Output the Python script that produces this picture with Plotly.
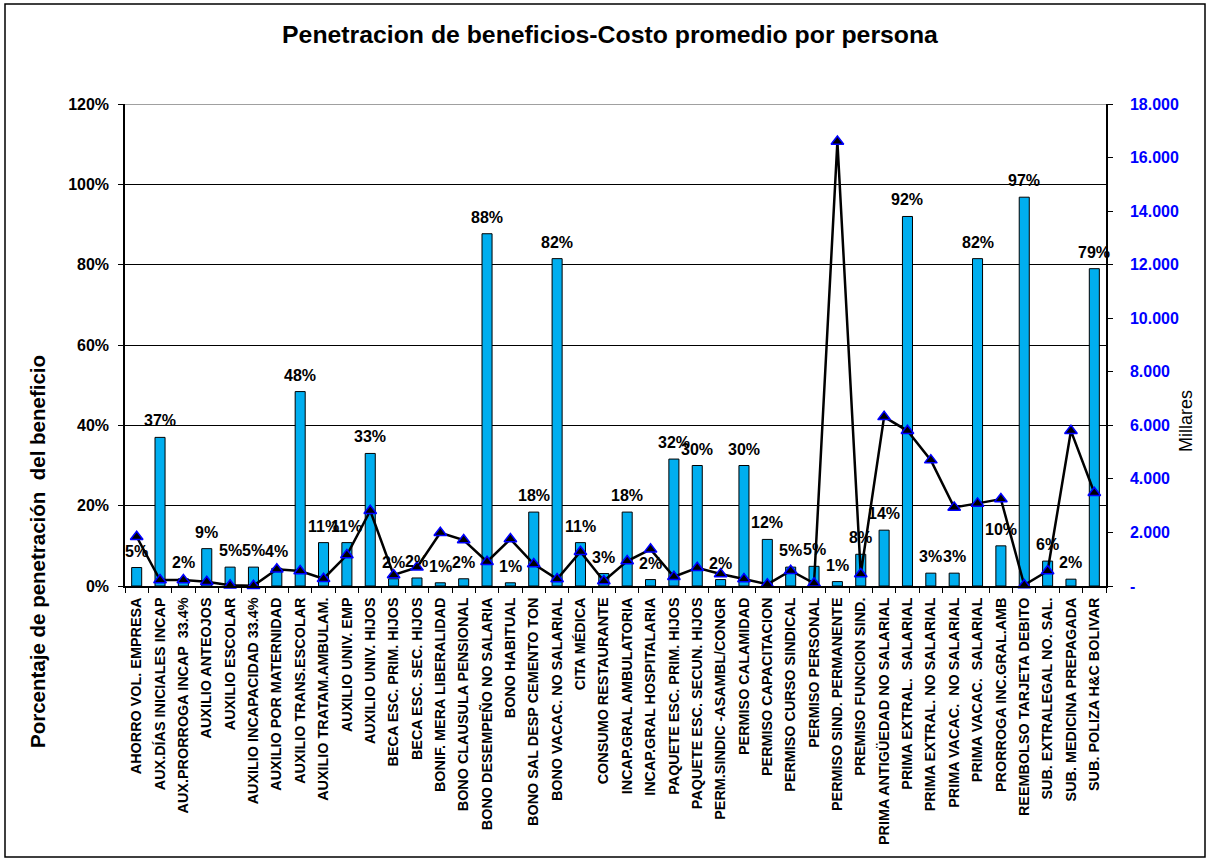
import plotly.graph_objects as go

# Beneficios
categorias = [
    "AHORRO VOL. EMPRESA", "AUX.DÍAS INICIALES INCAP", "AUX.PRORROGA INCAP  33.4%",
    "AUXILIO ANTEOJOS", "AUXILIO ESCOLAR", "AUXILIO INCAPACIDAD 33.4%",
    "AUXILIO POR MATERNIDAD", "AUXILIO TRANS.ESCOLAR", "AUXILIO TRATAM.AMBULAM.",
    "AUXILIO UNIV. EMP", "AUXILIO UNIV. HIJOS", "BECA ESC. PRIM. HIJOS",
    "BECA ESC. SEC. HIJOS", "BONIF. MERA LIBERALIDAD", "BONO CLAUSULA PENSIONAL",
    "BONO DESEMPEÑO NO SALARIA", "BONO HABITUAL", "BONO SAL DESP CEMENTO TON",
    "BONO VACAC. NO SALARIAL", "CITA MÉDICA", "CONSUMO RESTAURANTE",
    "INCAP.GRAL AMBULATORIA", "INCAP.GRAL HOSPITALARIA", "PAQUETE ESC. PRIM. HIJOS",
    "PAQUETE ESC. SECUN. HIJOS", "PERM.SINDIC -ASAMBL/CONGR", "PERMISO CALAMIDAD",
    "PERMISO CAPACITACION", "PERMISO CURSO SINDICAL", "PERMISO PERSONAL",
    "PERMISO SIND. PERMANENTE", "PREMISO FUNCION SIND.", "PRIMA ANTIGÜEDAD NO SALARIAL",
    "PRIMA EXTRAL.  SALARIAL", "PRIMA EXTRAL. NO SALARIAL", "PRIMA VACAC.  NO SALARIAL",
    "PRIMA VACAC.  SALARIAL", "PRORROGA INC.GRAL.AMB", "REEMBOLSO TARJETA DEBITO",
    "SUB. EXTRALEGAL NO. SAL.", "SUB. MEDICINA PREPAGADA", "SUB. POLIZA H&C BOLIVAR",
]

# Penetración del beneficio (fracción de personas)
penetracion = [
    0.046, 0.370, 0.018, 0.093, 0.047, 0.047, 0.044, 0.484, 0.108, 0.108,
    0.330, 0.018, 0.020, 0.008, 0.018, 0.877, 0.008, 0.184, 0.815, 0.108,
    0.031, 0.184, 0.016, 0.316, 0.300, 0.016, 0.300, 0.116, 0.047, 0.049,
    0.011, 0.079, 0.139, 0.920, 0.032, 0.032, 0.815, 0.100, 0.968, 0.062,
    0.017, 0.790,
]

# Costo promedio por persona (miles)
costo_promedio = [
    1840, 224, 224, 160, 25, 10, 623, 560, 272, 1157,
    2810, 410, 697, 1990, 1716, 907, 1754, 821, 261, 1280,
    187, 933, 1369, 347, 683, 448, 261, 63, 571, 100,
    16600, 448, 6317, 5795, 4701, 2936, 3085, 3246, 37, 560,
    5795, 3481,
]

ticks_pct = [0, 0.2, 0.4, 0.6, 0.8, 1.0, 1.2]
ticks_pct_text = ["0%", "20%", "40%", "60%", "80%", "100%", "120%"]
ticks_miles = [0, 2000, 4000, 6000, 8000, 10000, 12000, 14000, 16000, 18000]
ticks_miles_text = ["-", "2.000", "4.000", "6.000", "8.000", "10.000",
                    "12.000", "14.000", "16.000", "18.000"]

FONT = "Liberation Sans, Arial, sans-serif"

fig = go.Figure()

fig.add_trace(go.Bar(
    x=categorias, y=penetracion, yaxis="y",
    width=0.43,
    marker=dict(color="#00AEEF", line=dict(color="black", width=1)),
    showlegend=False,
))

fig.add_trace(go.Scatter(
    x=categorias, y=costo_promedio, yaxis="y2",
    mode="lines+markers",
    line=dict(color="black", width=2.5),
    marker=dict(symbol="triangle-up", size=11, color="black",
                line=dict(color="#0000FF", width=1.5)),
    cliponaxis=False,
    showlegend=False,
))

# Etiquetas de porcentaje sobre cada barra
for cat, val in zip(categorias, penetracion):
    fig.add_annotation(
        x=cat, y=val, xref="x", yref="y",
        text=f"{val:.0%}", showarrow=False,
        yanchor="bottom", yshift=6,
        font=dict(family=FONT, size=16, color="black", weight="bold"),
    )

W, H = 1211, 861
ML, MR, MT, MB = 125, 105, 104, 275
PW, PH = W - ML - MR, H - MT - MB


def px_to_paper_x(px):
    return (px - ML) / PW


def px_to_paper_y(py):
    return (H - MB - py) / PH


# Marco exterior del gráfico
fig.add_shape(type="rect", xref="paper", yref="paper",
              x0=px_to_paper_x(5), x1=px_to_paper_x(1205),
              y0=px_to_paper_y(857), y1=px_to_paper_y(4),
              line=dict(color="black", width=1.5), layer="above")

# Línea superior del área de trazado en gris
fig.add_shape(type="line", xref="paper", yref="y", x0=0, x1=1, y0=1.2, y1=1.2,
              line=dict(color="#808080", width=1.5), layer="below")

fig.add_annotation(
    text="Porcentaje de penetración  del beneficio",
    xref="paper", yref="paper", x=px_to_paper_x(37), y=px_to_paper_y(552),
    textangle=-90, showarrow=False, xanchor="center", yanchor="middle",
    font=dict(family=FONT, size=20.5, color="black", weight="bold"),
)
fig.add_annotation(
    text="Millares",
    xref="paper", yref="paper", x=px_to_paper_x(1186), y=px_to_paper_y(421),
    textangle=-90, showarrow=False, xanchor="center", yanchor="middle",
    font=dict(family=FONT, size=18, color="black"),
)

fig.update_layout(
    width=W, height=H,
    margin=dict(l=ML, r=MR, t=MT, b=MB, pad=0),
    paper_bgcolor="white", plot_bgcolor="white",
    title=dict(
        text="Penetracion de beneficios-Costo promedio por persona",
        x=610 / W, xanchor="center", xref="container",
        y=1 - 34 / H, yanchor="middle", yref="container",
        font=dict(family=FONT, size=24.8, color="black", weight="bold"),
    ),
    xaxis=dict(
        type="category", range=[-0.5, len(categorias) - 0.5],
        tickangle=-90, tickson="boundaries",
        ticks="outside", ticklen=5, tickcolor="black",
        showline=True, linecolor="black", linewidth=1.5,
        showgrid=False,
        tickfont=dict(family=FONT, size=14.4, color="black", weight="bold"),
        ticklabelstandoff=4,
    ),
    yaxis=dict(
        range=[0, 1.2], tickvals=ticks_pct, ticktext=ticks_pct_text,
        ticks="outside", ticklen=5, tickcolor="black",
        showline=True, linecolor="black", linewidth=1.5,
        showgrid=True, gridcolor="black", gridwidth=1.2,
        zeroline=False,
        tickfont=dict(family=FONT, size=16, color="black", weight="bold"),
        ticklabelstandoff=6,
    ),
    yaxis2=dict(
        range=[0, 18000], overlaying="y", side="right",
        tickvals=ticks_miles, ticktext=ticks_miles_text,
        ticks="outside", ticklen=5, tickcolor="black",
        showline=True, linecolor="black", linewidth=1.5,
        showgrid=False, zeroline=False,
        tickfont=dict(family=FONT, size=16, color="#0000FF", weight="bold"),
        ticklabelstandoff=14,
    ),
)

fig.write_html("out.html")
